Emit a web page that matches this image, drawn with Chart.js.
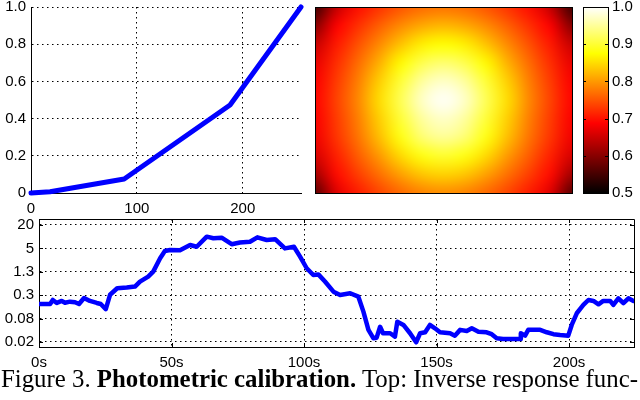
<!DOCTYPE html>
<html>
<head>
<meta charset="utf-8">
<script src="https://cdn.jsdelivr.net/npm/chart.js@4"></script>
<style>
body { margin: 0; width: 640px; height: 400px; overflow: hidden; position: relative; background: #fff; }
canvas { position: absolute; }
#caption { position: absolute; left: 1px; top: 367px; font: 24px/24px "Liberation Serif", "Times New Roman", serif; white-space: nowrap; color: #000; }
</style>
</head>
<body>
<canvas id="responseChart" width="310" height="225" style="left:0;top:-10px"></canvas>
<canvas id="vignetteChart" width="270" height="210" style="left:310px;top:-10px"></canvas>
<canvas id="colorbarChart" width="62" height="220" style="left:578px;top:-10px"></canvas>
<canvas id="exposureChart" width="640" height="170" style="left:0;top:205px"></canvas>
<div id="caption">Figure 3. <b>Photometric calibration.</b> Top: Inverse response func-</div>
<script>
// inverse response function (top left)
const responseX = [0, 18, 88, 188, 255]
const responseY = [0, 0.007, 0.075, 0.473, 1]
const responseTicks = [0, 100, 200]

// vignette map (top right), rows top -> bottom, columns left -> right
const vignetteRows = [
    [0.545, 0.644, 0.697, 0.725, 0.750, 0.767, 0.773, 0.767, 0.750, 0.725, 0.697, 0.644, 0.545],
    [0.598, 0.686, 0.722, 0.757, 0.789, 0.812, 0.822, 0.812, 0.789, 0.757, 0.722, 0.686, 0.598],
    [0.646, 0.705, 0.746, 0.788, 0.831, 0.864, 0.876, 0.864, 0.831, 0.788, 0.746, 0.705, 0.646],
    [0.672, 0.720, 0.766, 0.817, 0.871, 0.913, 0.930, 0.913, 0.871, 0.817, 0.766, 0.720, 0.672],
    [0.685, 0.730, 0.780, 0.840, 0.902, 0.953, 0.974, 0.953, 0.902, 0.840, 0.780, 0.730, 0.685],
    [0.690, 0.735, 0.787, 0.850, 0.916, 0.973, 0.997, 0.973, 0.916, 0.850, 0.787, 0.735, 0.690],
    [0.685, 0.730, 0.780, 0.840, 0.902, 0.953, 0.974, 0.953, 0.902, 0.840, 0.780, 0.730, 0.685],
    [0.678, 0.725, 0.772, 0.827, 0.884, 0.931, 0.949, 0.931, 0.884, 0.827, 0.772, 0.725, 0.678],
    [0.658, 0.710, 0.755, 0.800, 0.848, 0.884, 0.898, 0.884, 0.848, 0.800, 0.755, 0.710, 0.658],
    [0.619, 0.695, 0.732, 0.769, 0.805, 0.833, 0.843, 0.833, 0.805, 0.769, 0.732, 0.695, 0.619],
    [0.565, 0.665, 0.707, 0.738, 0.765, 0.784, 0.791, 0.784, 0.765, 0.738, 0.707, 0.665, 0.565],
]

// exposure over time (bottom)
const timeSec = [0, 4.2, 5.2, 6.7, 8.6, 9.8, 11.7, 13.6, 15.1, 17, 19.2, 21.8, 23.3, 25.2, 26.8, 29.5, 33.1, 36.2, 38.1, 41.2,
    43.1, 45.7, 47.5, 49.4, 53.2, 57, 59.5, 63.3, 65.8, 68.9, 72.7, 75.8, 79.6, 82.4, 85.9, 89.1, 92.8, 96.2, 98.5, 101,
    103.5, 105.4, 107.9, 111.1, 113.6, 117.4, 120.5, 122.4, 124.3, 126.2, 127.4, 128.7, 129.8, 132.5, 134.3, 135.2, 137.5, 140, 142.3, 143.8,
    145.7, 147.5, 149.4, 151.3, 155.1, 156.9, 158.9, 161.4, 163.3, 165.8, 168.9, 170.8, 172.7, 175.1, 181.5, 181.8, 183.4, 184.6, 189.1, 191.6,
    194.1, 196.6, 199.7, 201, 202.9, 205.4, 207.3, 209.2, 211.1, 212.9, 215.5, 216.7, 218.6, 220.5, 222.4, 224.3]
const exposure = [0.185, 0.185, 0.236, 0.197, 0.222, 0.2, 0.213, 0.205, 0.185, 0.265, 0.222, 0.197, 0.185, 0.136, 0.32, 0.47, 0.49, 0.52, 0.7, 0.94,
    1.26, 2.78, 4.29, 4.55, 4.5, 6.1, 5.5, 10, 9.1, 9.4, 6.4, 7.1, 7.4, 9.6, 8.2, 8.6, 5.0, 5.5, 3.06, 1.54,
    1.03, 1.07, 0.7, 0.385, 0.316, 0.35, 0.286, 0.118, 0.04, 0.0243, 0.0252, 0.048, 0.0327, 0.0327, 0.0268, 0.065, 0.0535, 0.0327, 0.0192, 0.0327,
    0.0347, 0.0535, 0.044, 0.0347, 0.0327, 0.0284, 0.04, 0.0375, 0.044, 0.036, 0.0347, 0.031, 0.0243, 0.0233, 0.0233, 0.0327, 0.0284, 0.04, 0.04, 0.0347,
    0.031, 0.0296, 0.0284, 0.0535, 0.107, 0.175, 0.235, 0.222, 0.182, 0.222, 0.222, 0.175, 0.26, 0.194, 0.26, 0.222]
const timeTicks = [0, 50, 100, 150, 200]
const exposureTicks = [0.0195, 0.078, 0.3125, 1.25, 5, 20]
const exposureTickLabels = ['0.02', '0.08', '0.3', '1.3', '5', '20']

Chart.defaults.font.family = '"Liberation Sans", Arial, sans-serif'
Chart.defaults.font.size = 15
Chart.defaults.color = '#000'
Chart.defaults.animation = false
Chart.defaults.plugins.legend.display = false
Chart.defaults.plugins.tooltip.enabled = false

const dotted = [1.5, 3.5]

// matlab "hot" colormap, v in 0.5..1
function hot(v) {
    const t = Math.min(1, Math.max(0, (v - 0.5) / 0.5))
    const c = x => Math.round(255 * Math.min(1, Math.max(0, x)))
    return [c(t * 8 / 3), c(t * 8 / 3 - 1), c(t * 4 - 3)]
}

const px = v => Math.round(v) + 0.5

// box + inward ticks like matlab axes
const boxPlugin = {
    id: 'matlabBox',
    afterDraw(chart, args, opts) {
        if (!opts.on) return
        const { ctx, chartArea: a, scales } = chart
        ctx.save()
        ctx.strokeStyle = '#000'
        ctx.lineWidth = 1
        ctx.beginPath()
        ctx.moveTo(px(a.left), px(a.top)); ctx.lineTo(px(a.right), px(a.top)); ctx.lineTo(px(a.right), px(a.bottom))
        scales.x.ticks.forEach(t => {
            const x = px(scales.x.getPixelForValue(t.value))
            ctx.moveTo(x, a.top); ctx.lineTo(x, a.top + 4)
            ctx.moveTo(x, a.bottom); ctx.lineTo(x, a.bottom - 4)
        })
        scales.y.ticks.forEach(t => {
            const y = px(scales.y.getPixelForValue(t.value))
            ctx.moveTo(a.left, y); ctx.lineTo(a.left + 4, y)
            ctx.moveTo(a.right, y); ctx.lineTo(a.right - 4, y)
        })
        ctx.stroke()
        ctx.restore()
    }
}

// top left: inverse response
new Chart(document.getElementById('responseChart'), {
    type: 'line',
    data: {
        datasets: [{
            data: responseX.map((x, i) => ({ x: x, y: responseY[i] })),
            borderColor: '#0000ff',
            borderWidth: 5,
            pointRadius: 0,
            tension: 0,
            borderJoinStyle: 'round',
            borderCapStyle: 'round',
            clip: 4
        }]
    },
    options: {
        responsive: false,
        layout: { padding: { top: 17, right: 9, left: 0, bottom: 0 } },
        scales: {
            x: {
                type: 'linear', min: 0, max: 255,
                afterBuildTicks: s => { s.ticks = responseTicks.map(v => ({ value: v })) },
                ticks: { padding: 7, maxRotation: 0, autoSkip: false },
                grid: { color: '#000', lineWidth: 1, drawTicks: false },
                border: { color: '#000', width: 1, dash: dotted },
                afterFit: s => { s.height = 22 }
            },
            y: {
                min: 0, max: 1,
                ticks: { stepSize: 0.2, padding: 5 },
                grid: { color: '#000', lineWidth: 1, drawTicks: false },
                border: { color: '#000', width: 1, dash: dotted },
                afterFit: s => { s.width = 31 }
            }
        }
    }
})

// top right: vignette heat map
const vignetteCells = []
vignetteRows.forEach((row, r) => row.forEach((v, c) => vignetteCells.push({ x: c, y: r, v: v })))
const nCols = vignetteRows[0].length
const nRows = vignetteRows.length

const heatmapPlugin = {
    id: 'heatmap',
    beforeDatasetsDraw(chart) {
        const { ctx, chartArea: a, scales } = chart
        const off = document.createElement('canvas')
        off.width = nCols
        off.height = nRows
        const octx = off.getContext('2d')
        const img = octx.createImageData(nCols, nRows)
        chart.data.datasets[0].data.forEach(cell => {
            const [r, g, b] = hot(cell.v)
            const i = (cell.y * nCols + cell.x) * 4
            img.data[i] = r; img.data[i + 1] = g; img.data[i + 2] = b; img.data[i + 3] = 255
        })
        octx.putImageData(img, 0, 0)
        const x0 = scales.x.getPixelForValue(-0.5), x1 = scales.x.getPixelForValue(nCols - 0.5)
        const y0 = scales.y.getPixelForValue(-0.5), y1 = scales.y.getPixelForValue(nRows - 0.5)
        ctx.save()
        ctx.beginPath()
        ctx.rect(a.left, a.top, a.width, a.height)
        ctx.clip()
        ctx.imageSmoothingEnabled = true
        ctx.imageSmoothingQuality = 'high'
        ctx.drawImage(off, x0, y0, x1 - x0, y1 - y0)
        ctx.restore()
        ctx.save()
        ctx.strokeStyle = '#000'
        ctx.lineWidth = 1
        ctx.strokeRect(px(a.left), px(a.top), Math.round(a.width), Math.round(a.height))
        ctx.restore()
    }
}

new Chart(document.getElementById('vignetteChart'), {
    type: 'scatter',
    data: { datasets: [{ data: vignetteCells, pointRadius: 0 }] },
    options: {
        responsive: false,
        layout: { padding: { left: 5, right: 8, top: 17, bottom: 7 } },
        scales: {
            x: { display: false, min: 0, max: nCols - 1 },
            y: { display: false, min: 0, max: nRows - 1, reverse: true }
        }
    },
    plugins: [heatmapPlugin]
})

// colour bar
const colorbarPlugin = {
    id: 'colorbar',
    beforeDatasetsDraw(chart) {
        const { ctx, chartArea: a, scales } = chart
        const yTop = scales.y.getPixelForValue(1), yBot = scales.y.getPixelForValue(0.5)
        const grad = ctx.createLinearGradient(0, yBot, 0, yTop)
        grad.addColorStop(0, '#000000')
        grad.addColorStop(0.375, '#ff0000')
        grad.addColorStop(0.75, '#ffff00')
        grad.addColorStop(1, '#ffffff')
        ctx.save()
        ctx.fillStyle = grad
        ctx.fillRect(a.left, yTop, a.width, yBot - yTop)
        ctx.strokeStyle = '#000'
        ctx.lineWidth = 1
        ctx.strokeRect(px(a.left), px(a.top), Math.round(a.width), Math.round(a.height))
        ctx.beginPath()
        scales.y.ticks.forEach(t => {
            const y = px(scales.y.getPixelForValue(t.value))
            ctx.moveTo(a.left, y); ctx.lineTo(a.left + 3, y)
            ctx.moveTo(a.right, y); ctx.lineTo(a.right - 3, y)
        })
        ctx.stroke()
        ctx.restore()
    }
}

new Chart(document.getElementById('colorbarChart'), {
    type: 'scatter',
    data: { datasets: [] },
    options: {
        responsive: false,
        layout: { padding: { left: 5, right: 0, top: 17, bottom: 17 } },
        scales: {
            x: { display: false, min: 0, max: 1 },
            y: {
                position: 'right', min: 0.5, max: 1,
                ticks: { stepSize: 0.1, padding: 4 },
                grid: { display: false, drawTicks: false },
                border: { display: false },
                afterFit: s => { s.width = 32 }
            }
        }
    },
    plugins: [colorbarPlugin]
})

// bottom: exposure over time, log scale
new Chart(document.getElementById('exposureChart'), {
    type: 'line',
    data: {
        datasets: [{
            data: timeSec.map((t, i) => ({ x: t, y: exposure[i] })),
            borderColor: '#0000ff',
            borderWidth: 4.5,
            pointRadius: 0,
            tension: 0,
            borderJoinStyle: 'round',
            borderCapStyle: 'round'
        }]
    },
    options: {
        responsive: false,
        layout: { padding: { top: 14, right: 6, left: 0, bottom: 0 } },
        scales: {
            x: {
                type: 'linear', min: 0, max: 224.5,
                afterBuildTicks: s => { s.ticks = timeTicks.map(v => ({ value: v })) },
                ticks: { padding: 7, maxRotation: 0, autoSkip: false, callback: v => v + 's' },
                grid: { color: '#000', lineWidth: 1, drawTicks: false },
                border: { color: '#000', width: 1, dash: dotted },
                afterFit: s => { s.height = 28 }
            },
            y: {
                type: 'logarithmic', min: 0.0145, max: 28.5,
                afterBuildTicks: s => { s.ticks = exposureTicks.map(v => ({ value: v })) },
                ticks: { padding: 5, autoSkip: false, callback: (v, i) => exposureTickLabels[i] },
                grid: { color: '#000', lineWidth: 1, drawTicks: false },
                border: { color: '#000', width: 1, dash: dotted },
                afterFit: s => { s.width = 39 }
            }
        },
        plugins: { matlabBox: { on: true } }
    },
    plugins: [boxPlugin]
})

// fit caption to the page width
const caption = document.getElementById('caption')
const w = caption.getBoundingClientRect().width
caption.style.fontSize = (24 * 637 / w).toFixed(2) + 'px'
</script>
</body>
</html>
